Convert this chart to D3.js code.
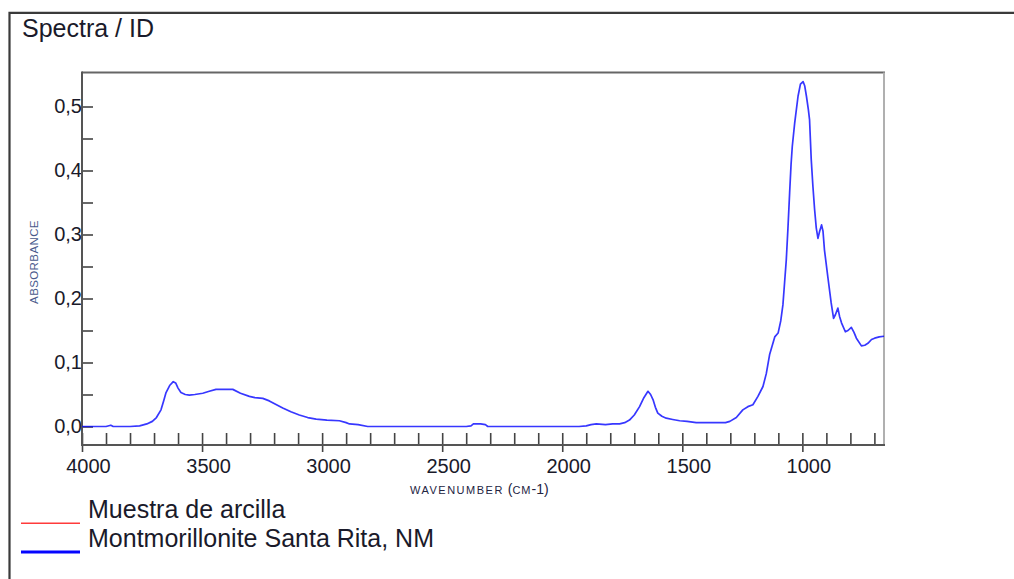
<!DOCTYPE html>
<html><head><meta charset="utf-8">
<script src="https://cdn.jsdelivr.net/npm/d3@7"></script>
<style>
body{margin:0;background:#fff}
svg{display:block}
text{font-family:"Liberation Sans",Arial,sans-serif}
</style>
</head><body>
<svg id="chart" width="1014" height="579"></svg>
<script>
// ---- data ----
const wavenumber = [4000,3900,3880,3870,3800,3760,3730,3707,3690,3671,3660,3650,3635,3620,3610,3600,3588,3570,3553,3530,3497,3470,3442,3410,3372,3340,3303,3280,3247,3220,3190,3164,3130,3095,3060,3025,2980,2928,2900,2886,2850,2810,2400,2380,2370,2340,2320,2310,1930,1900,1880,1858,1820,1790,1761,1740,1720,1700,1678,1660,1643,1632,1622,1612,1602,1585,1567,1540,1511,1480,1442,1400,1350,1320,1302,1275,1248,1227,1206,1185,1164,1150,1136,1115,1101,1090,1081,1074,1067,1060,1053,1047,1042,1032,1018,1008,997,990,983,975,970,963,956,949,942,935,928,920,914,908,894,880,870,862,852,845,837,821,810,796,785,775,754,740,727,712,699,680,660];
const absorbance = [0.000,0.000,0.002,0.000,0.000,0.001,0.004,0.008,0.014,0.026,0.040,0.053,0.064,0.070,0.068,0.060,0.053,0.050,0.049,0.050,0.052,0.055,0.058,0.058,0.058,0.052,0.047,0.045,0.044,0.040,0.034,0.029,0.023,0.018,0.014,0.0115,0.010,0.009,0.006,0.004,0.003,0.000,0.000,0.001,0.004,0.004,0.003,0.000,0.000,0.001,0.003,0.004,0.003,0.004,0.004,0.006,0.010,0.018,0.031,0.045,0.055,0.050,0.042,0.030,0.021,0.016,0.013,0.011,0.009,0.008,0.006,0.006,0.006,0.006,0.008,0.014,0.026,0.031,0.034,0.047,0.0625,0.083,0.113,0.140,0.146,0.165,0.190,0.225,0.260,0.310,0.365,0.410,0.4375,0.474,0.516,0.535,0.539,0.532,0.516,0.495,0.479,0.417,0.375,0.339,0.310,0.294,0.305,0.315,0.305,0.276,0.234,0.193,0.169,0.175,0.185,0.172,0.162,0.148,0.150,0.155,0.147,0.138,0.126,0.127,0.130,0.136,0.138,0.140,0.141];

const xMajorTicks = [4000,3500,3000,2500,2000,1500,1000];
const xTickLabels = ["4000","3500","3000","2500","2000","1500","1000"];
const xMinorTicks = [3900,3800,3700,3600,3500,3400,3300,3200,3100,3000,2900,2800,2700,2600,2500,2400,2300,2200,2100,2000,1900,1800,1700,1600,1500,1400,1300,1200,1100,1000,900,800,700];
const yMajorTicks = [0,0.1,0.2,0.3,0.4,0.5];
const yTickLabels = ["0,0","0,1","0,2","0,3","0,4","0,5"];
const yMinorTicks = [0.05,0.15,0.25,0.35,0.45];

const seriesNames = ["Muestra de arcilla","Montmorillonite Santa Rita, NM"];
const seriesColors = ["#ff3b3b","#0505ff"];
const titleText = "Spectra / ID";

// ---- layout ----
const svg = d3.select("#chart");
const plot = {left:82, right:884, top:72.5, bottom:445};

const x = d3.scaleLinear().domain([4000,660]).range([plot.left, plot.right]);
const y = d3.scaleLinear().domain([0,0.5]).range([426.5,106.5]);

// outer frame
svg.append("path").attr("d","M9.5,600V12.8H1030")
  .attr("fill","none").attr("stroke","#3a3a3a").attr("stroke-width",2.2);

// title
svg.append("text").attr("x",22).attr("y",37).attr("font-size",25).attr("fill","#1a1a2a").text(titleText);

// plot frame
svg.append("line").attr("x1",plot.left).attr("x2",plot.right+1).attr("y1",plot.top).attr("y2",plot.top)
  .attr("stroke","#666").attr("stroke-width",2);
svg.append("line").attr("x1",plot.right).attr("x2",plot.right).attr("y1",plot.top).attr("y2",plot.bottom)
  .attr("stroke","#b0b0b0").attr("stroke-width",2);

// x axis: all ticks inward
const xAxisMinor = d3.axisBottom(x).tickValues(xMinorTicks.concat([4000])).tickSize(-12).tickFormat("");
const gxm = svg.append("g").attr("transform",`translate(0,${plot.bottom})`).call(xAxisMinor);
const xAxisMajor = d3.axisBottom(x).tickValues(xMajorTicks).tickSize(7).tickPadding(7)
  .tickFormat((d,i)=>xTickLabels[i]);
const gx = svg.append("g").attr("transform",`translate(0,${plot.bottom})`).call(xAxisMajor);
gx.selectAll("text").attr("font-size",20).attr("fill","#1a1a2a").attr("dx",6).attr("font-family",null);
[gxm,gx].forEach(g=>{g.select(".domain").remove(); g.selectAll("line").attr("stroke","#444").attr("stroke-width",1.6);});

// y axis
const yAxisMinor = d3.axisLeft(y).tickValues(yMajorTicks.concat(yMinorTicks)).tickSize(-11).tickFormat("");
const gym = svg.append("g").attr("transform",`translate(${plot.left},0)`).call(yAxisMinor);
const yAxisMajor = d3.axisLeft(y).tickValues(yMajorTicks).tickSize(0).tickPadding(0)
  .tickFormat((d,i)=>yTickLabels[i]);
const gy = svg.append("g").attr("transform",`translate(${plot.left},0)`).call(yAxisMajor);
gy.selectAll("text").attr("font-size",20).attr("fill","#1a1a2a").attr("font-family",null);
[gym,gy].forEach(g=>{g.select(".domain").remove(); g.selectAll("line").attr("stroke","#444").attr("stroke-width",1.6);});

// axis lines
svg.append("line").attr("x1",plot.left).attr("x2",plot.left).attr("y1",plot.top-1).attr("y2",plot.bottom+1)
  .attr("stroke","#555").attr("stroke-width",2);
svg.append("line").attr("x1",plot.left).attr("x2",plot.right+1).attr("y1",plot.bottom).attr("y2",plot.bottom)
  .attr("stroke","#555").attr("stroke-width",2);

// axis titles
svg.append("text").attr("transform","translate(38,262) rotate(-90)").attr("text-anchor","middle")
  .attr("font-size",11.5).attr("letter-spacing",0.4).attr("fill","#4a5a8c").text("ABSORBANCE");
const xl = svg.append("text").attr("x",410).attr("y",494).attr("fill","#23233f");
xl.append("tspan").attr("font-size",11).attr("letter-spacing",1.5).text("WAVENUMBER");
xl.append("tspan").attr("font-size",14).text(" (");
xl.append("tspan").attr("font-size",11).attr("letter-spacing",1).text("CM");
xl.append("tspan").attr("font-size",14).text("-1)");

// spectrum
const pts = wavenumber.map((w,i)=>[w,absorbance[i]]);
const line = d3.line().x(d=>x(d[0])).y(d=>y(d[1]));
svg.append("path").datum(pts).attr("d",line).attr("fill","none")
  .attr("stroke",seriesColors[1]).attr("stroke-opacity",0.8).attr("stroke-width",1.7).attr("stroke-linejoin","round");

// legend
const legY = [523.3, 552];
const legW = [1.6, 3];
const legTextY = [518, 547];
seriesNames.forEach((name,i)=>{
  svg.append("line").attr("x1",21).attr("x2",80).attr("y1",legY[i]).attr("y2",legY[i])
    .attr("stroke",seriesColors[i]).attr("stroke-width",legW[i]);
  svg.append("text").attr("x",88).attr("y",legTextY[i]).attr("font-size",25).attr("fill","#1a1a2a").text(name);
});
</script>
</body></html>
